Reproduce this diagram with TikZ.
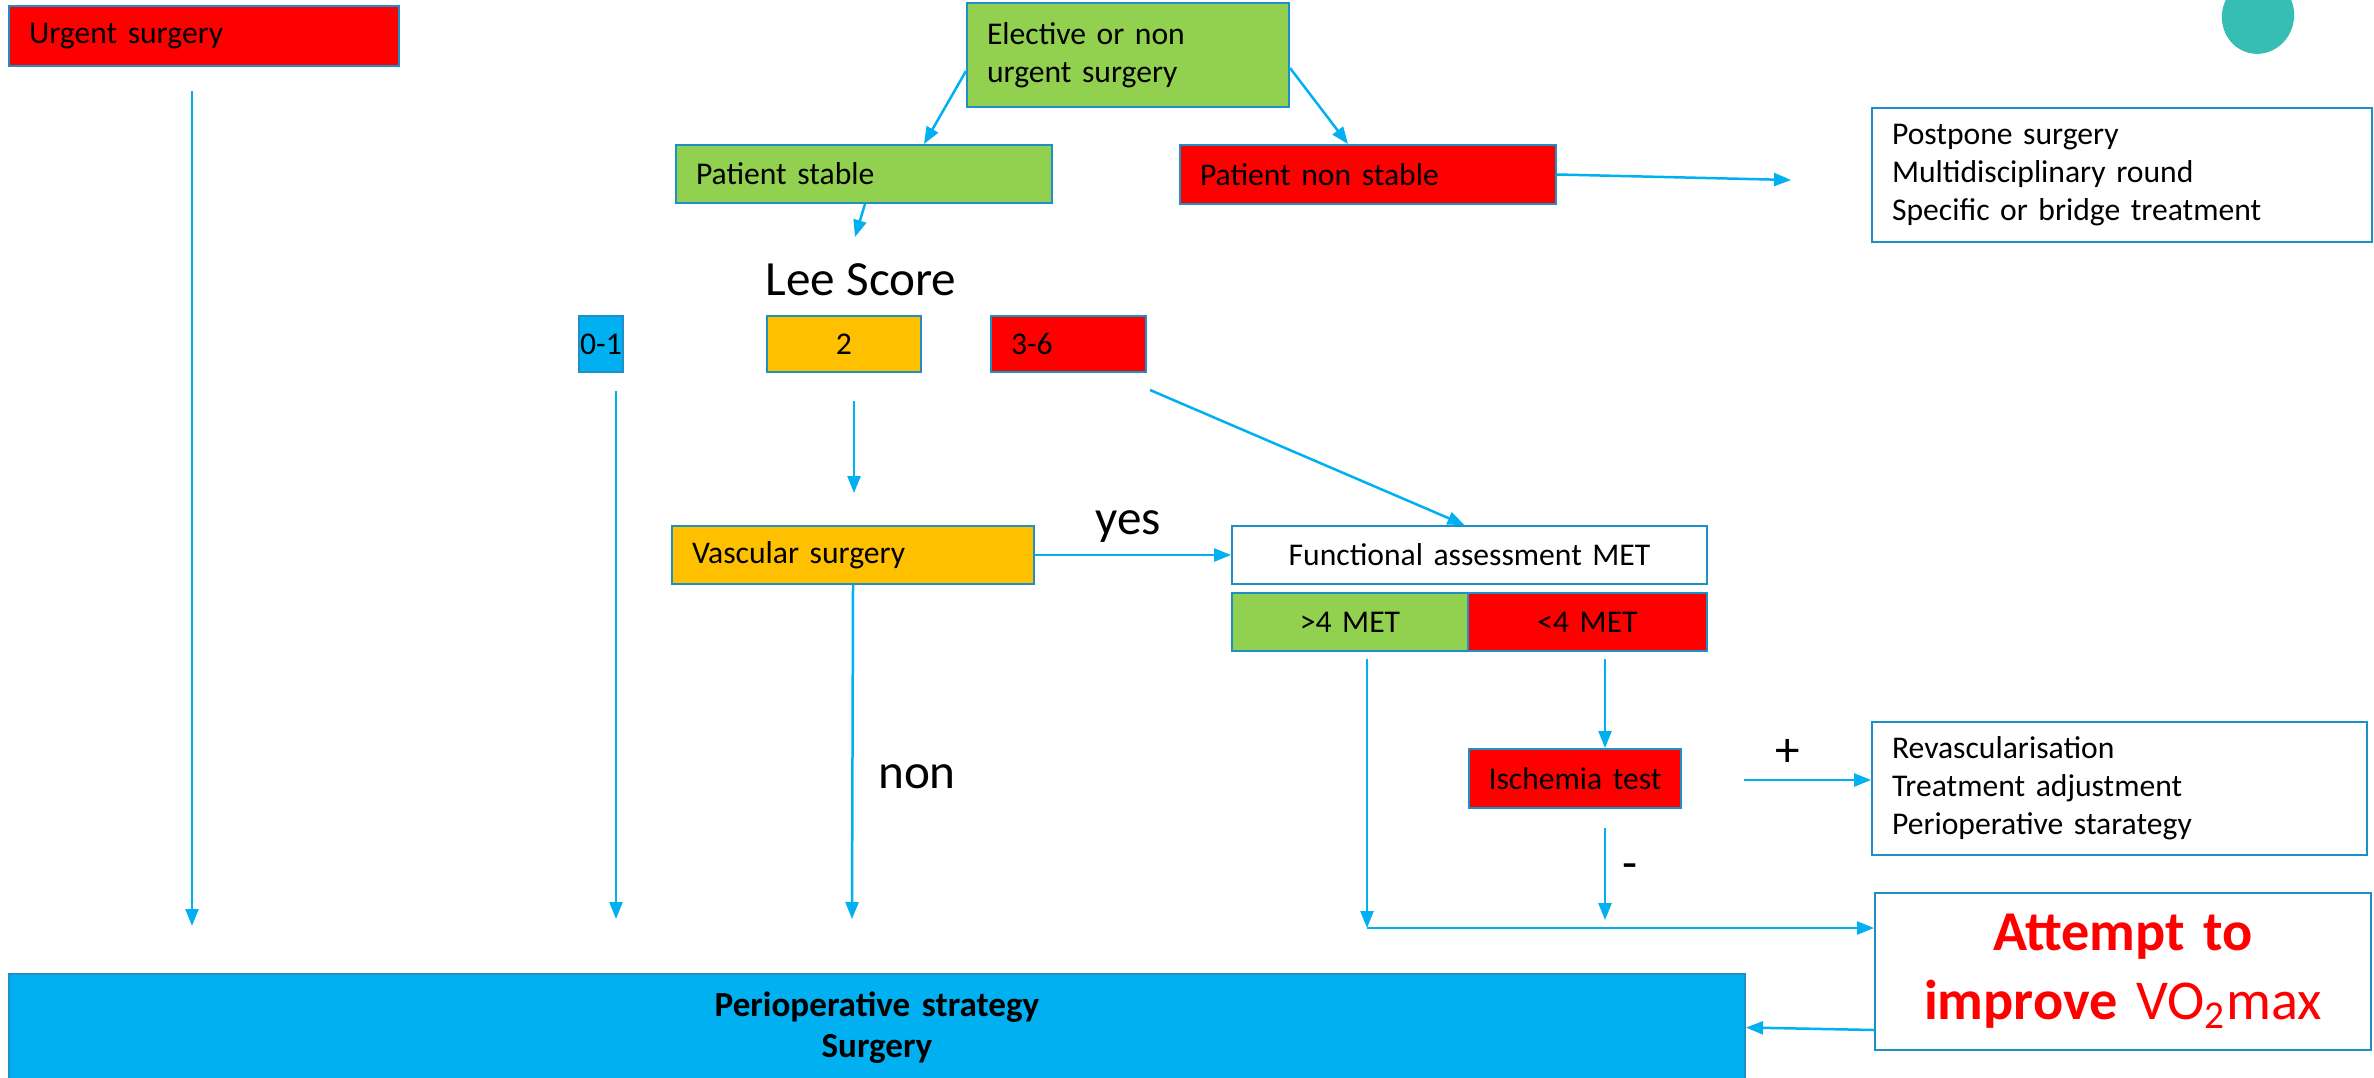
\documentclass[tikz,border=0pt]{standalone}
\usepackage{fontspec}
\setmainfont{Carlito}
\usetikzlibrary{calc}
\usetikzlibrary{arrows.meta}

\definecolor{boxred}{HTML}{FF0000}
\definecolor{boxgreen}{HTML}{92D050}
\definecolor{boxorange}{HTML}{FFC000}
\definecolor{boxblue}{HTML}{00B0F0}
\definecolor{arrowblue}{HTML}{00B0F0}
\definecolor{boxline}{RGB}{30,144,200}
\definecolor{blobteal}{RGB}{55,190,180}

\tikzset{
  box/.style={draw=boxline, line width=0.02cm, anchor=north west, inner xsep=0.2cm, inner ysep=0pt,
    align=left, font=\fontsize{9}{10.8}\selectfont},
  centerbox/.style={box, align=center},
  arr/.style={draw=arrowblue, line width=0.025cm, -{Triangle[length=0.17cm,width=0.13cm]}},
  lbl/.style={font=\fontsize{14}{16}\selectfont, inner sep=0pt}
}

\begin{document}
\begin{tikzpicture}
        % Fix the size of the page
        \useasboundingbox (0,0) rectangle (23.74,-10.77);

        % Draw the decoration at the top
        \fill[blobteal, rotate around={-15:(22.58,-0.16)}] (22.58,-0.16) ellipse [x radius=0.36cm, y radius=0.38cm];

        % Draw the boxes
        \node[box, fill=boxred, text width=3.50cm, minimum height=0.60cm] (urgent) at (0.08,-0.05) {Urgent surgery};
        \node[box, fill=boxgreen, text width=2.82cm, minimum height=1.04cm] (elective) at (9.66,-0.02) {Elective or non\\urgent surgery};
        \node[box, fill=boxgreen, text width=3.36cm, minimum height=0.58cm] (stable) at (6.75,-1.44) {Patient stable};
        \node[box, fill=boxred, text width=3.36cm, minimum height=0.59cm] (nonstable) at (11.79,-1.44) {Patient non stable};
        \node[box, fill=white, text width=4.60cm, minimum height=1.34cm] (postpone) at (18.71,-1.07) {Postpone surgery\\Multidisciplinary round\\Specific or bridge treatment};

        \node[lbl] (lee) at (8.61,-2.80) {Lee Score};
        \node[centerbox, fill=boxblue, inner xsep=0pt, text width=0.44cm, minimum height=0.56cm] (leelow) at (5.78,-3.15) {0-1};
        \node[centerbox, fill=boxorange, text width=1.14cm, minimum height=0.56cm] (leemid) at (7.66,-3.15) {2};
        \node[box, fill=boxred, text width=1.15cm, minimum height=0.56cm] (leehigh) at (9.90,-3.15) {3-6};

        \node[box, fill=boxorange, text width=3.22cm, minimum height=0.58cm] (vascular) at (6.71,-5.25) {Vascular surgery};
        \node[centerbox, fill=white, text width=4.35cm, minimum height=0.58cm] (func) at (12.31,-5.25) {Functional assessment MET};
        \node[centerbox, fill=boxgreen, text width=1.96cm, minimum height=0.58cm] (above) at (12.31,-5.92) {>4 MET};
        \node[centerbox, fill=boxred, text width=1.99cm, minimum height=0.58cm] (below) at (14.67,-5.92) {<4 MET};
        \node[centerbox, fill=boxred, inner xsep=0pt, text width=2.12cm, minimum height=0.59cm] (ischemia) at (14.68,-7.48) {Ischemia test};
        \node[box, fill=white, text width=4.55cm, minimum height=1.33cm] (revasc) at (18.71,-7.21) {Revascularisation\\Treatment adjustment\\Perioperative starategy};
        \node[centerbox, fill=white, text width=4.56cm, minimum height=1.57cm, text=boxred,
          font=\fontsize{16}{19.5}\selectfont] (attempt) at (18.74,-8.92) {\textbf{Attempt to}\\\textbf{improve} VO\textsubscript{2}max};
        \node[centerbox, fill=boxblue, text width=16.96cm, minimum height=1.07cm,
          font=\fontsize{10}{11.7}\selectfont\bfseries] (periop) at (0.08,-9.73) {Perioperative strategy\\Surgery};

        % Draw the labels
        \node[lbl] (yes) at (11.28,-5.27) {yes};
        \node[lbl] (non) at (9.17,-7.77) {non};
        \node[lbl] (plus) at (17.88,-7.53) {+};
        \node[lbl] (minus) at (16.30,-8.72) {-};

        % Free ends of the arrows
        \coordinate (U1) at (1.92,-0.91);
        \coordinate (U2) at (1.92,-9.26);
        \coordinate (L1) at (8.55,-2.37);
        \coordinate (P1) at (17.91,-1.80);
        \coordinate (Z1) at (6.16,-3.91);
        \coordinate (Z2) at (6.16,-9.19);
        \coordinate (T1) at (8.54,-4.01);
        \coordinate (T2) at (8.54,-4.93);
        \coordinate (H1) at (11.50,-3.90);
        \coordinate (V2) at (8.52,-9.19);
        \coordinate (G1) at (13.67,-6.59);
        \coordinate (G2) at (13.67,-9.28);
        \coordinate (I1) at (16.05,-6.59);
        \coordinate (M1) at (16.05,-8.28);
        \coordinate (M2) at (16.05,-9.20);
        \coordinate (R1) at (17.44,-7.80);

        % Draw the arrows
        \draw[arr] (U1) -- (U2);
        \draw[arr] ([yshift=-0.16cm]elective.west) -- ([xshift=0.60cm]stable.north);
        \draw[arr] ([yshift=-0.13cm]elective.east) -- ([xshift=-0.20cm]nonstable.north);
        \draw[arr] ([xshift=0.01cm]stable.south) -- (L1);
        \draw[arr] (nonstable.east) -- (P1);
        \draw[arr] (Z1) -- (Z2);
        \draw[arr] (T1) -- (T2);
        \draw[arr] (H1) -- ([xshift=-0.05cm]func.north);
        \draw[arr] (vascular.east) -- (func.west);
        \draw[arr] (vascular.south) -- (V2);
        \draw[arr] (G1) -- (G2);
        \draw[arr] (G2) -- (G2 -| attempt.west);
        \draw[arr] (I1) -- (I1 |- ischemia.north);
        \draw[arr] (M1) -- (M2);
        \draw[arr] (R1) -- (R1 -| revasc.west);
        \draw[arr] ([yshift=-0.585cm]attempt.west) -- (periop.east);

    \end{tikzpicture}
\end{document}
